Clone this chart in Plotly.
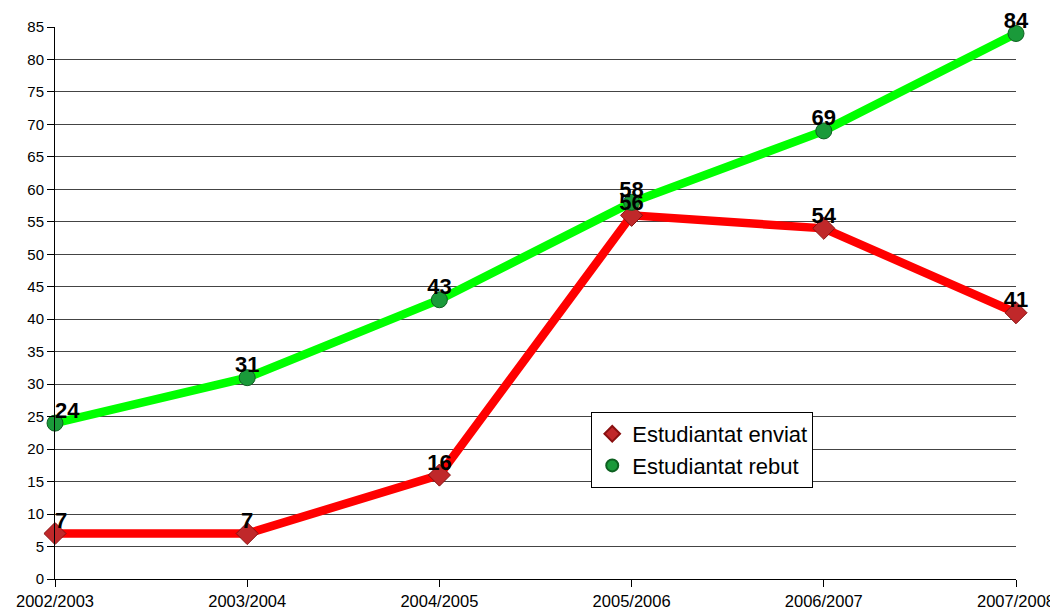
import plotly.graph_objects as go

years = ["2002/2003", "2003/2004", "2004/2005", "2005/2006", "2006/2007", "2007/2008"]
enviat = [7, 7, 16, 56, 54, 41]
rebut = [24, 31, 43, 58, 69, 84]
y_ticks = list(range(0, 90, 5))

label_pos = ["top right"] + ["top center"] * 5
label_font = dict(family="Liberation Sans, Arial", size=22, color="black")

series = [
    ("Estudiantat enviat", enviat, "#ff0000",
     dict(symbol="diamond", size=17, color="#c0282a", line=dict(color="#8a1010", width=1))),
    ("Estudiantat rebut", rebut, "#00ff00",
     dict(symbol="circle", size=16, color="#1a9a3a", line=dict(color="#0d6020", width=1))),
]

fig = go.Figure()
for name, vals, line_color, marker in series:
    fig.add_trace(go.Scatter(
        x=years, y=vals, name=name, mode="lines+markers",
        line=dict(color=line_color, width=8.5), marker=marker,
        showlegend=False, cliponaxis=False,
    ))
for name, vals, line_color, marker in series:
    fig.add_trace(go.Scatter(
        x=years, y=vals, mode="text", showlegend=False, cliponaxis=False,
        text=[f"<b>{v}</b>" for v in vals], textposition=label_pos,
        textfont=label_font, hoverinfo="skip",
    ))
# legend entries (marker only, like the original)
for name, vals, line_color, marker in series:
    fig.add_trace(go.Scatter(
        x=[None], y=[None], name=name, mode="markers", marker=marker,
    ))

# page body has an 8px margin, so the figure is offset by 8px
fig.update_layout(
    width=1050, height=604,
    margin=dict(l=47, r=42, t=19, b=33),
    plot_bgcolor="white", paper_bgcolor="white",
    font=dict(family="Liberation Sans, Arial", size=15, color="black"),
    showlegend=True,
    legend=dict(
        x=0.558, y=0.3025, xanchor="left", yanchor="top",
        bordercolor="black", borderwidth=1, bgcolor="white",
        font=dict(size=22), traceorder="normal",
        itemsizing="constant", tracegroupgap=0,
    ),
)
fig.update_xaxes(
    type="category", range=[0, 5], showgrid=False, automargin=False,
    showline=True, linecolor="black", linewidth=1,
    ticks="outside", ticklen=7, tickcolor="black",
    tickfont=dict(size=16.5),
)
fig.update_yaxes(
    range=[0, 85], tickvals=y_ticks, showgrid=True, automargin=False,
    gridcolor="#444444", gridwidth=1,
    showline=True, linecolor="black", linewidth=1,
    zeroline=True, zerolinecolor="black", zerolinewidth=1,
    ticks="outside", ticklen=7, tickcolor="black",
    tickfont=dict(size=15),
)

fig.write_html("out.html")
